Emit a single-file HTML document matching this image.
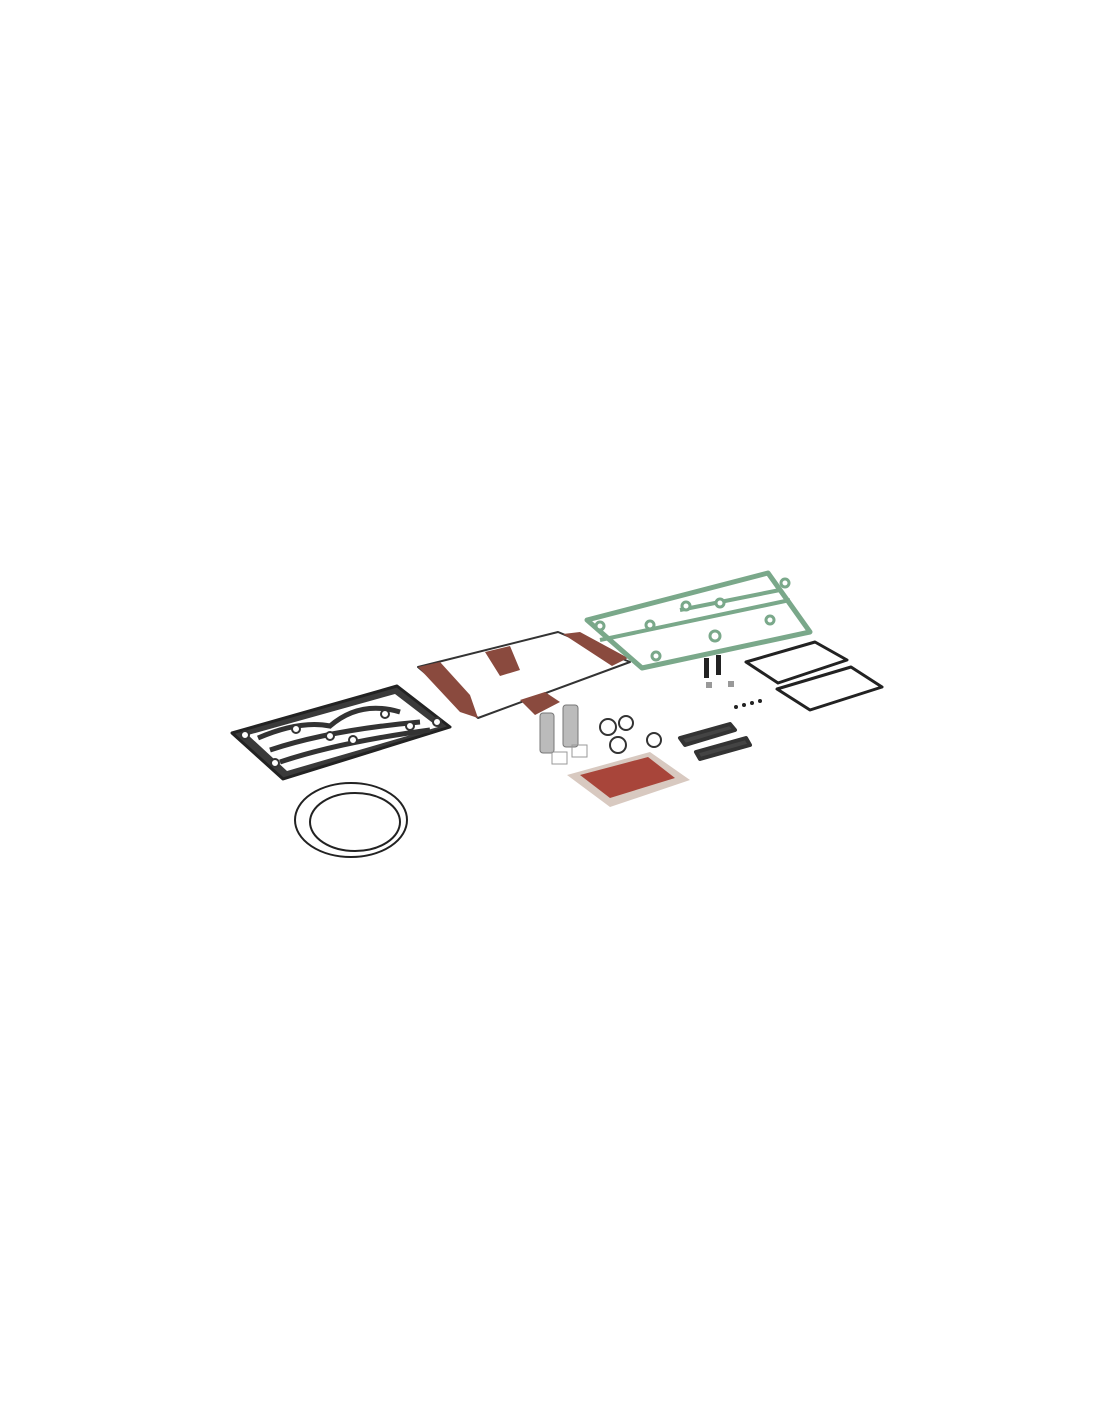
<!DOCTYPE html>
<html><head><style>body{margin:0;background:#fff}svg{display:block}</style></head><body>
<svg width="1100" height="1422" viewBox="0 0 1100 1422" xmlns="http://www.w3.org/2000/svg">
<rect width="1100" height="1422" fill="#fff"/>
<!-- black gasket -->
<path d="M232,733 L397,686 L450,727 L283,779 Z" fill="#3a3a3a" stroke="#222" stroke-width="3" stroke-linejoin="round"/>
<path d="M248,735 L395,694 L438,727 L287,771 Z" fill="#fff"/>
<path d="M258,738 Q300,720 330,726 Q360,700 400,712 M270,750 Q330,730 420,722 M280,762 Q340,742 430,730" stroke="#333" stroke-width="5" fill="none"/>
<g fill="#fff" stroke="#333" stroke-width="2"><circle cx="245" cy="735" r="4"/><circle cx="275" cy="763" r="4"/><circle cx="296" cy="729" r="4"/><circle cx="330" cy="736" r="4"/><circle cx="353" cy="740" r="4"/><circle cx="385" cy="714" r="4"/><circle cx="410" cy="726" r="4"/><circle cx="437" cy="722" r="4"/></g>
<!-- rings -->
<ellipse cx="351" cy="820" rx="56" ry="37" fill="none" stroke="#222" stroke-width="2"/>
<ellipse cx="355" cy="822" rx="45" ry="29" fill="none" stroke="#222" stroke-width="2"/>
<!-- red gasket -->
<path d="M418,667 L558,632 L630,662 L478,718 Z" fill="none" stroke="#333" stroke-width="2" stroke-linejoin="round"/>
<path d="M418,667 L440,662 L470,695 L478,718 L460,712 Z" fill="#8a4a3e"/>
<path d="M485,652 L510,646 L520,670 L500,676 Z M520,700 L545,692 L560,702 L535,715 Z" fill="#8a4a3e"/>
<path d="M563,634 L580,632 L628,658 L612,666 Z" fill="#8a4a3e"/>
<!-- green gasket -->
<path d="M587,620 L768,573 L810,632 L642,668 Z" fill="#fff" stroke="#7aa88a" stroke-width="5" stroke-linejoin="round"/>
<path d="M600,640 L790,600 M680,610 L780,590" stroke="#7aa88a" stroke-width="4" fill="none"/>
<g fill="#fff" stroke="#7aa88a" stroke-width="3"><circle cx="600" cy="626" r="4"/><circle cx="650" cy="625" r="4"/><circle cx="686" cy="606" r="4"/><circle cx="720" cy="603" r="4"/><circle cx="770" cy="620" r="4"/><circle cx="715" cy="636" r="5"/><circle cx="656" cy="656" r="4"/><circle cx="785" cy="583" r="4"/></g>
<!-- small gaskets -->
<path d="M746,662 L815,642 L847,660 L778,683 Z" fill="none" stroke="#222" stroke-width="3" stroke-linejoin="round"/>
<path d="M777,689 L851,667 L882,687 L810,710 Z" fill="none" stroke="#222" stroke-width="3" stroke-linejoin="round"/>
<!-- bolts -->
<rect x="704" y="658" width="5" height="20" fill="#222"/><rect x="716" y="655" width="5" height="20" fill="#222"/>
<rect x="706" y="682" width="6" height="6" fill="#999"/><rect x="728" y="681" width="6" height="6" fill="#999"/>
<g fill="#222"><circle cx="736" cy="707" r="2"/><circle cx="744" cy="705" r="2"/><circle cx="752" cy="703" r="2"/><circle cx="760" cy="701" r="2"/></g>
<!-- pistons -->
<rect x="540" y="713" width="14" height="40" rx="3" fill="#bbb" stroke="#777"/>
<rect x="563" y="705" width="15" height="42" rx="3" fill="#bbb" stroke="#777"/>
<rect x="552" y="752" width="15" height="12" fill="none" stroke="#999"/><rect x="572" y="745" width="15" height="12" fill="none" stroke="#999"/>
<!-- circlips -->
<g fill="none" stroke="#333" stroke-width="2"><circle cx="608" cy="727" r="8"/><circle cx="626" cy="723" r="7"/><circle cx="618" cy="745" r="8"/><circle cx="654" cy="740" r="7"/></g>
<!-- bars -->
<path d="M680,738 L730,724 L735,730 L685,745 Z" fill="#444" stroke="#333" stroke-width="4" stroke-linejoin="round"/>
<path d="M696,752 L746,738 L750,745 L700,759 Z" fill="#444" stroke="#333" stroke-width="4" stroke-linejoin="round"/>
<!-- packet -->
<path d="M567,775 L650,752 L690,780 L610,807 Z" fill="#d8c9c0"/>
<path d="M580,775 L648,757 L675,778 L610,798 Z" fill="#a8453a"/>
</svg>
</body></html>
